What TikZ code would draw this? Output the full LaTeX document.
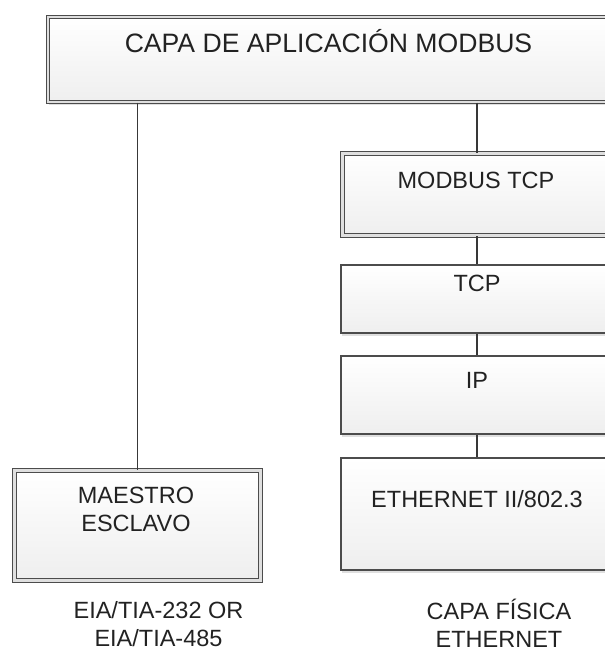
\documentclass[tikz,border=0pt]{standalone}
\usepackage{fontspec}
\setmainfont{Liberation Sans}
\usetikzlibrary{shadows}
\definecolor{edge}{HTML}{4C4C4C}
\definecolor{ink}{HTML}{222222}
\definecolor{wire}{HTML}{383838}
\begin{document}
\begin{tikzpicture}[x=1pt,y=-1pt,
  layer/.style={rectangle, draw=edge, line width=1.1pt, inner sep=0pt,
    top color=white, bottom color=gray!13,
    drop shadow={shadow xshift=1pt, shadow yshift=-2.5pt, opacity=0.25, fill=gray}},
  dlayer/.style={layer, double=gray!25, double distance=2.4pt},
  wire/.style={draw=wire, line width=1.2pt},
  caption/.style={font=\fontsize{23.5}{28}\selectfont, text=ink, inner sep=0pt, align=center},
  title/.style={font=\fontsize{26.6}{31}\selectfont, text=ink, inner sep=0pt}]
\useasboundingbox (0,0) rectangle (605,651);
\clip (0,0) rectangle (605,651);

% protocol layers
\node[dlayer, minimum width=564pt, minimum height=85pt] (app) at (330,59.5) {};
\node[dlayer, minimum width=269pt, minimum height=82pt] (mtcp) at (477,194.5) {};
\node[layer, minimum width=272pt, minimum height=68pt] (tcp) at (477,299) {};
\node[layer, minimum width=272pt, minimum height=78pt] (ip) at (477,395) {};
\node[layer, minimum width=272pt, minimum height=112pt] (eth) at (477,514) {};
\node[dlayer, minimum width=246pt, minimum height=110pt] (serial) at (137.5,525.5) {};

% links between layers
\draw[wire] (serial.north |- app.south) -- (serial.north);
\draw[wire] (mtcp.north |- app.south) -- (mtcp.north);
\draw[wire] (mtcp.south) -- (tcp.north);
\draw[wire] (tcp.south) -- (ip.north);
\draw[wire] (ip.south) -- (eth.north);

% layer names
\node[title, anchor=base] (tapp) at (328.5,52.5) {CAPA DE APLICACIÓN MODBUS};
\node[caption, anchor=base] (tmtcp) at (476,188.4) {MODBUS TCP};
\node[caption, anchor=base] (ttcp) at (477,291.4) {TCP};
\node[caption, anchor=base] (tip) at (477,388.4) {IP};
\node[caption, anchor=base] (teth) at (477,507.4) {ETHERNET II/802.3};
\node[caption] (tserial) at (136,509.5) {MAESTRO\\ESCLAVO};

% physical layer captions
\node[caption] (phys1) at (158.5,624) {EIA/TIA-232 OR\\EIA/TIA-485};
\node[caption] (phys2) at (499,623) {CAPA FÍSICA\\ETHERNET};
\end{tikzpicture}
\end{document}
